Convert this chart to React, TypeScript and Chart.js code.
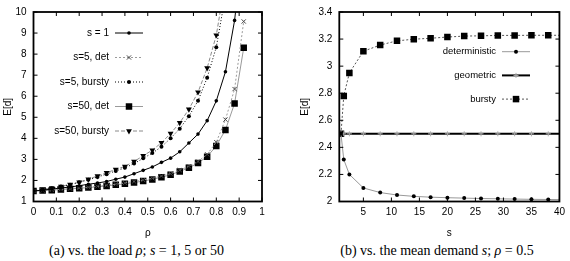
import React, { useEffect, useRef } from 'react';
import { Chart, registerables } from 'chart.js';
Chart.register(...registerables);

// ---------- data: panel (a) ----------
const rho = [0, 0.04, 0.08, 0.12, 0.16, 0.2, 0.24, 0.28, 0.32, 0.36, 0.4, 0.44, 0.48, 0.52, 0.56, 0.6, 0.64, 0.68, 0.72, 0.76, 0.8, 0.84, 0.88, 0.92];
const s1 = [1.5, 1.54, 1.59, 1.64, 1.69, 1.75, 1.82, 1.88, 1.95, 2.06, 2.16, 2.32, 2.48, 2.64, 2.86, 3.06, 3.36, 3.78, 4.2, 4.84, 5.78, 7.16, 9.6, 13.5];
const s5det = [1.5, 1.52, 1.55, 1.58, 1.61, 1.64, 1.68, 1.72, 1.77, 1.82, 1.88, 1.95, 2.02, 2.1, 2.21, 2.32, 2.49, 2.67, 2.9, 3.24, 3.82, 4.89, 6.34, 9.55];
const s5bursty = [1.5, 1.56, 1.63, 1.71, 1.8, 1.91, 2.03, 2.16, 2.3, 2.45, 2.6, 2.8, 3.05, 3.3, 3.6, 4.0, 4.46, 5.05, 5.78, 6.88, 8.33, 10.8, null, null];
const s50det = [1.5, 1.52, 1.54, 1.57, 1.6, 1.63, 1.66, 1.7, 1.74, 1.79, 1.84, 1.9, 1.97, 2.05, 2.15, 2.27, 2.43, 2.6, 2.83, 3.13, 3.64, 4.4, 5.66, 8.3];
const s50bursty = [1.5, 1.57, 1.64, 1.72, 1.81, 1.92, 2.06, 2.21, 2.37, 2.52, 2.67, 2.9, 3.17, 3.44, 3.79, 4.23, 4.74, 5.38, 6.19, 7.34, 8.9, 11.5, null, null];
const rhoTicks = [0, 0.1, 0.2, 0.3, 0.4, 0.5, 0.6, 0.7, 0.8, 0.9, 1];
const edTicksA = [1, 2, 3, 4, 5, 6, 7, 8, 9, 10];

// ---------- data: panel (b) ----------
const sVals = [1, 1.5, 2.5, 5, 8, 11, 14, 17, 20, 23, 26, 29, 32, 35, 38, 40];
const detB = [2.5, 2.31, 2.2, 2.1, 2.066, 2.048, 2.038, 2.032, 2.028, 2.025, 2.022, 2.02, 2.018, 2.016, 2.015, 2.014];
const geoB = [2.5, 2.5, 2.5, 2.5, 2.5, 2.5, 2.5, 2.5, 2.5, 2.5, 2.5, 2.5, 2.5, 2.5, 2.5, 2.5];
const burstyB = [2.5, 2.78, 2.95, 3.11, 3.156, 3.187, 3.199, 3.206, 3.215, 3.222, 3.224, 3.227, 3.227, 3.228, 3.228, 3.228];
const sTicks = [5, 10, 15, 20, 25, 30, 35, 40];
const edTicksB = [2, 2.2, 2.4, 2.6, 2.8, 3, 3.2, 3.4];

const FONT = "'Liberation Sans', Arial, sans-serif";
Chart.defaults.font.family = FONT;
Chart.defaults.color = '#000';

function drawMarker(ctx: CanvasRenderingContext2D, style: string, x: number, y: number, r: number, fill: string, stroke: string, rot: number) {
  ctx.save();
  ctx.fillStyle = fill;
  ctx.strokeStyle = stroke;
  ctx.lineWidth = 1;
  ctx.setLineDash([]);
  ctx.beginPath();
  if (style === 'circle') {
    ctx.arc(x, y, r, 0, Math.PI * 2);
    ctx.fill();
  } else if (style === 'rect') {
    const h = r * Math.SQRT1_2;
    ctx.rect(x - h, y - h, 2 * h, 2 * h);
    ctx.fill();
  } else if (style === 'triangle') {
    const a = (rot * Math.PI) / 180;
    for (let i = 0; i < 3; i++) {
      const t = a - Math.PI / 2 + (i * 2 * Math.PI) / 3;
      const px = x + Math.cos(t) * r;
      const py = y + Math.sin(t) * r;
      if (i === 0) ctx.moveTo(px, py); else ctx.lineTo(px, py);
    }
    ctx.closePath();
    ctx.fill();
  } else if (style === 'crossRot') {
    const h = r * Math.SQRT1_2;
    ctx.moveTo(x - h, y - h); ctx.lineTo(x + h, y + h);
    ctx.moveTo(x - h, y + h); ctx.lineTo(x + h, y - h);
    ctx.stroke();
  } else if (style === 'cross') {
    ctx.moveTo(x - r, y); ctx.lineTo(x + r, y);
    ctx.moveTo(x, y - r); ctx.lineTo(x, y + r);
    ctx.stroke();
  }
  ctx.restore();
}

const boxPlugin = {
  id: 'gnuBox',
  afterDatasetsDraw(chart: any) {
    const { ctx, chartArea: a, scales } = chart;
    const xs = scales.x, ys = scales.y;
    const TL = 4;
    ctx.save();
    ctx.strokeStyle = '#000';
    ctx.lineWidth = 1;
    ctx.setLineDash([]);
    ctx.beginPath();
    for (const t of xs.ticks) {
      const px = xs.getPixelForValue(t.value);
      ctx.moveTo(px, a.bottom); ctx.lineTo(px, a.bottom - TL);
      ctx.moveTo(px, a.top); ctx.lineTo(px, a.top + TL);
    }
    for (const t of ys.ticks) {
      const py = ys.getPixelForValue(t.value);
      ctx.moveTo(a.left, py); ctx.lineTo(a.left + TL, py);
      ctx.moveTo(a.right, py); ctx.lineTo(a.right - TL, py);
    }
    ctx.stroke();
    ctx.lineWidth = 1.8;
    ctx.strokeRect(a.left, a.top, a.right - a.left, a.bottom - a.top);
    ctx.restore();
  },
};

const legendPlugin = {
  id: 'gnuLegend',
  afterDraw(chart: any, _args: any, opts: any) {
    const { ctx } = chart;
    ctx.save();
    ctx.font = `${opts.fontSize}px ${FONT}`;
    ctx.textAlign = 'right';
    ctx.textBaseline = 'middle';
    chart.data.datasets.forEach((ds: any, i: number) => {
      const y = opts.top + i * opts.step;
      ctx.fillStyle = '#000';
      ctx.fillText(ds.label, opts.textRight, y);
      const x0 = opts.textRight + 6;
      const x1 = x0 + opts.sampleLen;
      ctx.strokeStyle = ds.borderColor;
      ctx.lineWidth = ds.borderWidth;
      ctx.setLineDash(ds.borderDash || []);
      ctx.beginPath();
      ctx.moveTo(x0, y);
      ctx.lineTo(x1, y);
      ctx.stroke();
      const r = Array.isArray(ds.pointRadius) ? ds.pointRadius[0] : ds.pointRadius;
      drawMarker(ctx, ds.pointStyle, (x0 + x1) / 2, y, r, ds.pointBackgroundColor, ds.pointBorderColor, ds.pointRotation || 0);
    });
    ctx.restore();
  },
};

function pts(xs: number[], ys: (number | null)[]) {
  return xs.map((x, i) => ({ x, y: ys[i] }));
}

function axes(xTicks: number[], yTicks: number[], xmin: number, xmax: number, ymin: number, ymax: number, yWidth: number, yTitlePad: number, xTitle: string) {
  return {
    x: {
      type: 'linear',
      min: xmin,
      max: xmax,
      afterBuildTicks: (s: any) => { s.ticks = xTicks.map((v) => ({ value: v })); },
      afterFit: (s: any) => { s.height = 38.5; },
      grid: { display: false, drawTicks: false },
      border: { display: false },
      ticks: { padding: 5, font: { size: 10 }, color: '#000', maxRotation: 0, autoSkip: false, callback: (v: any) => String(v) },
      title: { display: true, text: xTitle, font: { size: 10 }, color: '#000', padding: { top: 0, bottom: 1 } },
    },
    y: {
      type: 'linear',
      min: ymin,
      max: ymax,
      afterBuildTicks: (s: any) => { s.ticks = yTicks.map((v) => ({ value: v })); },
      afterFit: (s: any) => { s.width = yWidth; },
      grid: { display: false, drawTicks: false },
      border: { display: false },
      ticks: { padding: 7, font: { size: 10, lineHeight: 1 }, color: '#000', autoSkip: false, callback: (v: any) => String(v) },
      title: { display: true, text: 'E[d]', font: { size: 10 }, color: '#000', padding: { top: yTitlePad, bottom: 0 } },
    },
  };
}

function ChartA() {
  const ref = useRef<HTMLCanvasElement>(null);
  useEffect(() => {
    const chart = new Chart(ref.current as HTMLCanvasElement, {
      type: 'line',
      data: {
        datasets: [
          { label: 's = 1', data: pts(rho, s1), borderColor: '#000', borderWidth: 1, pointStyle: 'circle', pointRadius: 1.8, pointBackgroundColor: '#000', pointBorderColor: '#000', pointBorderWidth: 0 },
          { label: 's=5, det', data: pts(rho, s5det), borderColor: '#9a9a9a', borderWidth: 1, borderDash: [2, 2], pointStyle: 'crossRot', pointRadius: 3, pointBackgroundColor: '#444', pointBorderColor: '#444', pointBorderWidth: 1 },
          { label: 's=5, bursty', data: pts(rho, s5bursty), borderColor: '#000', borderWidth: 1, borderDash: [1, 2], pointStyle: 'circle', pointRadius: 2, pointBackgroundColor: '#000', pointBorderColor: '#000', pointBorderWidth: 0 },
          { label: 's=50, det', data: pts(rho, s50det), borderColor: '#9a9a9a', borderWidth: 1, pointStyle: 'rect', pointRadius: 4.6, pointBackgroundColor: '#000', pointBorderColor: '#000', pointBorderWidth: 0 },
          { label: 's=50, bursty', data: pts(rho, s50bursty), borderColor: '#8a8a8a', borderWidth: 1, borderDash: [4, 2], pointStyle: 'triangle', pointRotation: 180, pointRadius: 3.4, pointBackgroundColor: '#000', pointBorderColor: '#000', pointBorderWidth: 0 },
        ],
      },
      options: {
        animation: false,
        responsive: false,
        events: [],
        layout: { padding: { left: 0, top: 5, right: 28, bottom: 2 } },
        elements: { line: { tension: 0 } },
        scales: axes(rhoTicks, edTicksA, 0, 1, 1, 10, 33.5, 2, 'ρ') as any,
        plugins: {
          legend: { display: false },
          tooltip: { enabled: false },
          gnuLegend: { top: 33, step: 24.5, textRight: 109, sampleLen: 28, fontSize: 10 },
        } as any,
      },
      plugins: [boxPlugin, legendPlugin],
    });
    return () => chart.destroy();
  }, []);
  return <canvas ref={ref} width={290} height={242} style={{ position: 'absolute', left: 0, top: 0, width: 290, height: 242 }} />;
}

function ChartB() {
  const ref = useRef<HTMLCanvasElement>(null);
  useEffect(() => {
    const last = sVals.length - 1;
    const radii = (r: number) => sVals.map((_, i) => (i === last ? 0 : r));
    const chart = new Chart(ref.current as HTMLCanvasElement, {
      type: 'line',
      data: {
        datasets: [
          { label: 'deterministic', data: pts(sVals, detB), borderColor: '#999', borderWidth: 1, pointStyle: 'circle', pointRadius: radii(2), pointBackgroundColor: '#000', pointBorderColor: '#000', pointBorderWidth: 0 },
          { label: 'geometric', data: pts(sVals, geoB), borderColor: '#000', borderWidth: 2, pointStyle: 'cross', pointRadius: radii(2.5), pointBackgroundColor: '#aaa', pointBorderColor: '#aaa', pointBorderWidth: 1 },
          { label: 'bursty', data: pts(sVals, burstyB), borderColor: '#555', borderWidth: 1, borderDash: [2, 2], pointStyle: 'rect', pointRadius: radii(4.6), pointBackgroundColor: '#000', pointBorderColor: '#000', pointBorderWidth: 0 },
        ],
      },
      options: {
        animation: false,
        responsive: false,
        events: [],
        layout: { padding: { left: 0, top: 5, right: 8, bottom: 2 } },
        elements: { line: { tension: 0 } },
        scales: axes(sTicks, edTicksB, 0.7, 40, 2, 3.4, 49.3, 9, 's') as any,
        plugins: {
          legend: { display: false },
          tooltip: { enabled: false },
          gnuLegend: { top: 51.7, step: 23.7, textRight: 206, sampleLen: 28, fontSize: 9.5 },
        } as any,
      },
      plugins: [boxPlugin, legendPlugin],
    });
    return () => chart.destroy();
  }, []);
  return <canvas ref={ref} width={280} height={242} style={{ position: 'absolute', left: 290, top: 0, width: 280, height: 242 }} />;
}

const captionStyle: React.CSSProperties = {
  position: 'absolute',
  top: 243,
  height: 18,
  lineHeight: '16px',
  fontFamily: "'Liberation Serif', 'Times New Roman', serif",
  fontSize: 14,
  textAlign: 'center',
  whiteSpace: 'nowrap',
  color: '#000',
};

export default function App() {
  return (
    <div style={{ position: 'absolute', left: 0, top: 0, width: 570, height: 261, background: '#fff', overflow: 'hidden' }}>
      <ChartA />
      <ChartB />
      <div style={{ ...captionStyle, left: 0, width: 273 }}>
        (a) vs. the load <i>ρ</i>; <i>s</i> = 1, 5 or 50
      </div>
      <div style={{ ...captionStyle, left: 300, width: 274 }}>
        (b) vs. the mean demand <i>s</i>; <i>ρ</i> = 0.5
      </div>
    </div>
  );
}
